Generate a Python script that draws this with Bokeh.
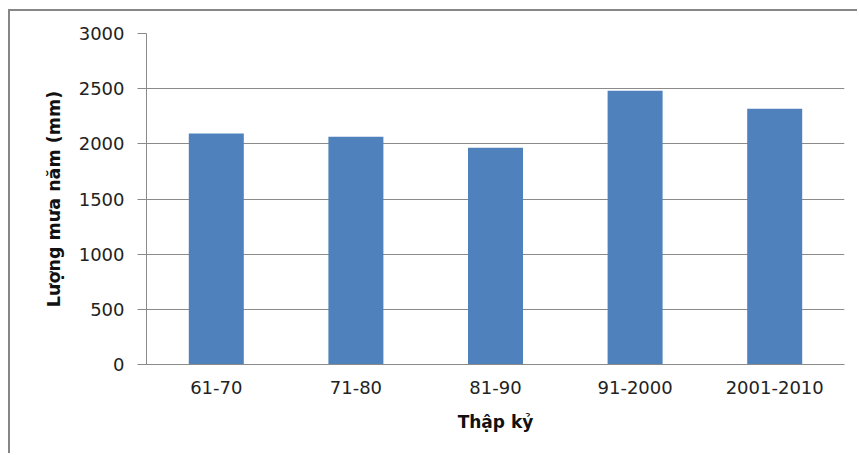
from bokeh.plotting import figure
from bokeh.models import Range1d, FactorRange, FixedTicker, ColumnDataSource
from bokeh.embed import file_html
from bokeh.resources import INLINE

# Annual rainfall per decade
decades = ["61-70", "71-80", "81-90", "91-2000", "2001-2010"]
rainfall = [2094, 2064, 1964, 2481, 2317]
y_ticks = [0, 500, 1000, 1500, 2000, 2500, 3000]

source = ColumnDataSource(data=dict(decade=decades, rainfall=rainfall))

# the chart sits inside a frame drawn with a top and left border
off_x, off_y = 10, 11

p = figure(
    width=859 - off_x, height=455 - off_y,
    x_range=FactorRange(factors=decades, range_padding=0),
    y_range=Range1d(0, 3000),
    output_backend="svg", toolbar_location=None,
    min_border_left=146 - off_x, min_border_right=15,
    min_border_top=33 - off_y, min_border_bottom=91,
)
p.styles = {
    "margin-left": "8px",
    "margin-top": "9px",
    "border-left": "2px solid #868686",
    "border-top": "2px solid #868686",
}

p.vbar(x="decade", top="rainfall", width=0.394, source=source,
       fill_color="#4F81BD", line_color=None)

grey = "#8a8a8a"
font = "DejaVu Sans"

# y axis
p.yaxis.ticker = FixedTicker(ticks=y_ticks)
p.yaxis.axis_line_color = grey
p.yaxis.major_tick_line_color = grey
p.yaxis.major_tick_out = 9
p.yaxis.major_tick_in = 0
p.yaxis.minor_tick_line_color = None
p.yaxis.major_label_text_font = font
p.yaxis.major_label_text_font_size = "18px"
p.yaxis.major_label_text_color = "#222222"
p.yaxis.major_label_standoff = 13
p.yaxis.axis_label = "Lượng mưa năm (mm)"
p.yaxis.axis_label_text_font = font
p.yaxis.axis_label_text_font_style = "bold"
p.yaxis.axis_label_text_font_size = "17.5px"
p.yaxis.axis_label_text_color = "#111111"
p.yaxis.axis_label_standoff = 12

# x axis
p.xaxis.axis_line_color = grey
p.xaxis.major_tick_line_color = None
p.xaxis.major_tick_out = 0
p.xaxis.major_tick_in = 0
p.xaxis.minor_tick_line_color = None
p.xaxis.major_label_text_font = font
p.xaxis.major_label_text_font_size = "18px"
p.xaxis.major_label_text_color = "#222222"
p.xaxis.major_label_standoff = 16
p.xaxis.axis_label = "Thập kỷ"
p.xaxis.axis_label_text_font = font
p.xaxis.axis_label_text_font_style = "bold"
p.xaxis.axis_label_text_font_size = "17px"
p.xaxis.axis_label_text_color = "#111111"
p.xaxis.axis_label_standoff = 15

p.xgrid.grid_line_color = None
p.ygrid.ticker = FixedTicker(ticks=y_ticks)
p.ygrid.grid_line_color = grey
p.ygrid.grid_line_width = 1

p.outline_line_color = None

open("out.html", "w").write(file_html(p, INLINE))
